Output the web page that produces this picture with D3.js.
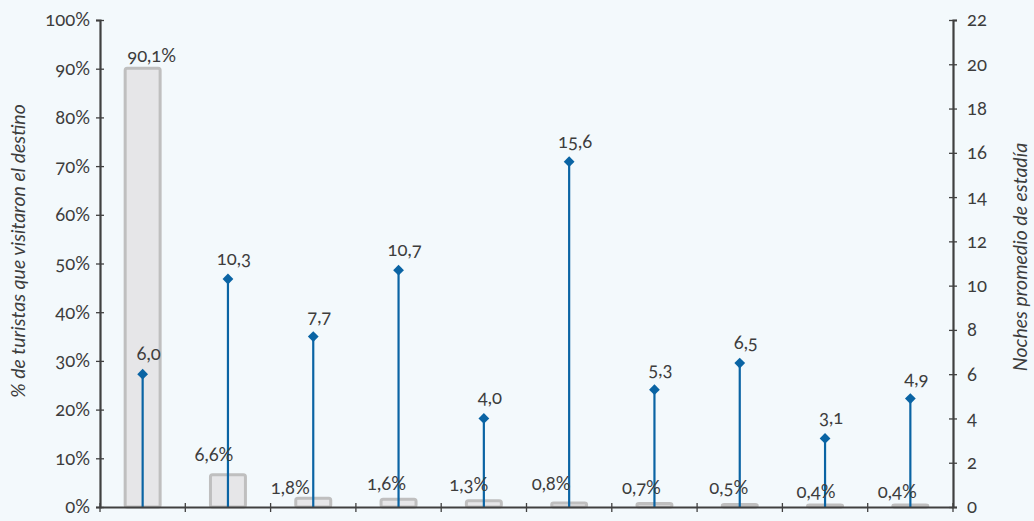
<!DOCTYPE html>
<html>
<head>
<meta charset="utf-8">
<script src="https://cdn.jsdelivr.net/npm/d3@7"></script>
<style>
  html, body { margin: 0; padding: 0; background: #f3f9fc; }
  svg { display: block; }
  text { font-family: Lato, "Open Sans", sans-serif; fill: #3d3d3d; font-variant-numeric: oldstyle-nums; font-feature-settings: "onum" 1; }
</style>
</head>
<body>
<svg id="chart" width="1034" height="521"></svg>
<script>
// ---- data ----
const categories = ["Destino 1","Destino 2","Destino 3","Destino 4","Destino 5","Destino 6","Destino 7","Destino 8","Destino 9","Destino 10"];
const pctVisited = [90.1, 6.6, 1.8, 1.6, 1.3, 0.8, 0.7, 0.5, 0.4, 0.4];
const avgNights  = [6.0, 10.3, 7.7, 10.7, 4.0, 15.6, 5.3, 6.5, 3.1, 4.9];
const pctTicks   = [0, 10, 20, 30, 40, 50, 60, 70, 80, 90, 100];
const nightTicks = [0, 2, 4, 6, 8, 10, 12, 14, 16, 18, 20, 22];
const leftTitle  = "% de turistas que visitaron el destino";
const rightTitle = "Noches promedio de estadía";

// ---- layout (label nudges, px) ----
const pctLabelNudge = [[9,-6],[-14,-14],[-23,-4],[-12,-9],[-15,-10],[-18,-13],[-13,-10],[-11,-11],[-9,-7],[-13,-7]];

const fmt = v => v.toFixed(1).replace(".", ",");
const svg = d3.select("#chart");
const m = {left: 100, right: 953, top: 20, bottom: 507};
const fs = 18.5;

const x = d3.scaleBand().domain(categories).range([m.left, m.right]).padding(0);
const yL = d3.scaleLinear().domain([0, 100]).range([m.bottom, m.top]);
const yR = d3.scaleLinear().domain([0, 22]).range([m.bottom, m.top]);
const barW = x.bandwidth() * 0.41;
const cx = c => x(c) + x.bandwidth() / 2;

const axisColor = "#404040";
const blue = "#0a64a4";

// bars
svg.append("g").selectAll("rect").data(categories).join("rect")
  .attr("x", c => cx(c) - barW / 2)
  .attr("y", (c, i) => yL(pctVisited[i]))
  .attr("width", barW)
  .attr("height", (c, i) => m.bottom - yL(pctVisited[i]))
  .attr("rx", 2)
  .attr("fill", "#e6e6e8")
  .attr("stroke", "#bfbfbf")
  .attr("stroke-width", 3);

// lollipop lines
svg.append("g").selectAll("line").data(categories).join("line")
  .attr("x1", cx).attr("x2", cx)
  .attr("y1", m.bottom)
  .attr("y2", (c, i) => yR(avgNights[i]))
  .attr("stroke", blue)
  .attr("stroke-width", 2.2);

// diamonds
svg.append("g").selectAll("path").data(categories).join("path")
  .attr("d", d3.symbol(d3.symbolSquare, 58))
  .attr("transform", (c, i) => `translate(${cx(c)},${yR(avgNights[i])}) rotate(45)`)
  .attr("fill", blue);

// axes
const gl = svg.append("g").attr("transform", `translate(${m.left},0)`)
  .call(d3.axisLeft(yL).tickValues(pctTicks).tickFormat(d => d + "%").tickSize(4).tickPadding(6));
const gr = svg.append("g").attr("transform", `translate(${m.right},0)`)
  .call(d3.axisRight(yR).tickValues(nightTicks).tickFormat(d => d).tickSize(4).tickPadding(10));
const gb = svg.append("g").attr("transform", `translate(0,${m.bottom})`)
  .call(d3.axisBottom(x).tickValues([]).tickSize(0));

[gl, gr, gb].forEach(g => {
  g.select(".domain").attr("stroke", axisColor).attr("stroke-width", 2.2);
  g.selectAll(".tick line").attr("stroke", axisColor).attr("stroke-width", 1.3);
  g.selectAll(".tick text").attr("font-size", fs).attr("fill", "#3d3d3d")
    .style("font-family", "Lato, sans-serif");
});
// crossing ticks on left/right axes
gl.selectAll(".tick line").attr("x1", 4).attr("x2", -4);
gr.selectAll(".tick line").attr("x1", -4).attr("x2", 4);
// category boundary ticks on bottom axis
const bounds = categories.map(c => x(c)).concat([m.right]);
svg.append("g").selectAll("line").data(bounds).join("line")
  .attr("x1", d => d).attr("x2", d => d)
  .attr("y1", m.bottom - 4).attr("y2", m.bottom + 5)
  .attr("stroke", axisColor).attr("stroke-width", 1.3);

// percentage labels
svg.append("g").selectAll("text").data(categories).join("text")
  .attr("x", (c, i) => cx(c) + pctLabelNudge[i][0])
  .attr("y", (c, i) => yL(pctVisited[i]) + pctLabelNudge[i][1])
  .attr("text-anchor", "middle")
  .attr("font-size", fs)
  .text((c, i) => fmt(pctVisited[i]) + "%");

// nights labels
svg.append("g").selectAll("text").data(categories).join("text")
  .attr("x", c => cx(c) + 6)
  .attr("y", (c, i) => yR(avgNights[i]) - 14)
  .attr("text-anchor", "middle")
  .attr("font-size", fs)
  .text((c, i) => fmt(avgNights[i]));

// axis titles
svg.append("text")
  .attr("transform", `translate(25,251) rotate(-90)`)
  .attr("text-anchor", "middle")
  .attr("font-size", 19.5)
  .attr("font-style", "italic")
  .text(leftTitle);
svg.append("text")
  .attr("transform", `translate(1027,257) rotate(-90)`)
  .attr("text-anchor", "middle")
  .attr("font-size", 19.5)
  .attr("font-style", "italic")
  .text(rightTitle);
</script>
</body>
</html>
